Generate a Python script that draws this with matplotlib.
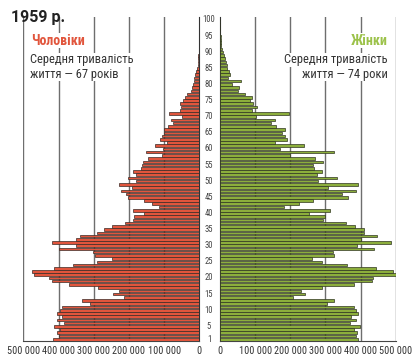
import matplotlib
matplotlib.use("Agg")
import matplotlib.pyplot as plt
import matplotlib.transforms as mtransforms

plt.rcParams['font.family'] = ['Roboto Condensed', 'Roboto', 'DejaVu Sans']

# Population of Ukraine in 1959 by single year of age (thousands)
ages = list(range(1, 101))
men = [415, 400, 405, 396, 412, 384, 405, 391, 403, 396,
       391, 311, 332, 214, 246, 227, 287, 369, 418, 426,
       469, 474, 412, 360, 292, 249, 296, 301, 400, 350,
       418, 350, 339, 292, 271, 249, 211, 187, 186, 156,
       189, 114, 134, 157, 204, 208, 223, 192, 227, 180,
       204, 180, 189, 166, 164, 161, 145, 105, 152, 102,
       125, 93, 112, 105, 100, 100, 88, 74, 80, 50,
       85, 55, 52, 55, 46, 41, 35, 25, 21, 17,
       14, 14, 11, 9, 6, 5, 4, 3, 2.5, 2,
       1.5, 1.2, 1, 0.8, 0.7, 0.6, 0.5, 0.4, 0.3, 0.3]
women = [394, 386, 389, 380, 397, 370, 387, 373, 392, 387,
         382, 304, 325, 209, 242, 231, 291, 380, 432, 435,
         513, 491, 443, 361, 291, 263, 325, 321, 439, 389,
         487, 400, 446, 410, 410, 384, 358, 292, 299, 254,
         313, 182, 226, 264, 365, 348, 386, 306, 394, 280,
         334, 275, 291, 268, 264, 294, 270, 199, 325, 171,
         238, 157, 192, 185, 177, 185, 159, 144, 157, 102,
         197, 90, 106, 95, 84, 92, 71, 52, 55, 33,
         60, 24, 28, 26, 20, 19, 16, 14, 12, 9,
         6, 3, 2.5, 2, 1.5, 1.2, 1, 0.8, 0.6, 0.5]
men = [v * 1000 for v in men]
women = [v * 1000 for v in women]

xticks = [0, 100000, 200000, 300000, 400000, 500000]
xlabels = ["0" if t == 0 else f"{t // 1000} 000" for t in xticks]
age_ticks = [1] + list(range(5, 101, 5))

red = "#e1553c"
green = "#8cae3c"

fig = plt.figure(figsize=(4.12, 3.59), dpi=100)
ax_l = fig.add_axes([0.0566, 0.051, 0.4272, 0.9025])
ax_r = fig.add_axes([0.534, 0.051, 0.4265, 0.9025])

ax_l.barh(ages, men, height=0.8, color=red, edgecolor="#3a2a25", linewidth=0.5, zorder=3)
ax_r.barh(ages, women, height=0.8, color=green, edgecolor="#2f3520", linewidth=0.5, zorder=3)

for ax in (ax_l, ax_r):
    ax.set_ylim(0.55, 101)
    ax.set_yticks([])
    for t in xticks[1:]:
        ax.axvline(t, color="#6e6e6e", lw=1.0, zorder=0)
    ax.set_xticks(xticks)
    ax.set_xticklabels(xlabels, fontsize=7.4, color="#333333")
    ax.tick_params(axis="x", length=0, pad=4)
    ax.spines["top"].set_visible(False)
    ax.spines["bottom"].set_color("#444444")

ax_l.set_xlim(500000, 0)
ax_r.set_xlim(0, 500000)
ax_l.spines["left"].set_visible(False)
ax_l.spines["right"].set_color("#333333")
ax_r.spines["right"].set_visible(False)
ax_r.spines["left"].set_color("#333333")

# age labels in the gap between the two halves
trans = mtransforms.blended_transform_factory(ax_r.transAxes, ax_r.transData)
for a in age_ticks:
    ax_r.text(-0.063, a, str(a), transform=trans, ha="center", va="center",
              fontsize=6.2, color="#444444", clip_on=False)

box = dict(facecolor="white", edgecolor="none", pad=0.3)
fig.text(0.027, 0.952, "1959 р.", fontsize=11.5, fontweight="bold",
         color="#222222", ha="left", va="center", family=['Roboto', 'DejaVu Sans'])
fig.text(0.075, 0.887, "Чоловіки", fontsize=10, fontweight="semibold", color=red,
         ha="left", va="center", bbox=box)
fig.text(0.073, 0.833, "Середня тривалість", fontsize=9, color="#333333",
         ha="left", va="center", bbox=box)
fig.text(0.073, 0.793, "життя — 67 років", fontsize=9, color="#333333",
         ha="left", va="center", bbox=box)
fig.text(0.941, 0.887, "Жінки", fontsize=10, fontweight="semibold", color="#9cc24a",
         ha="right", va="center", bbox=box)
fig.text(0.941, 0.833, "Середня тривалість", fontsize=9, color="#333333",
         ha="right", va="center", bbox=box)
fig.text(0.941, 0.793, "життя — 74 роки", fontsize=9, color="#333333",
         ha="right", va="center", bbox=box)

fig.savefig("out.png", dpi=100)
